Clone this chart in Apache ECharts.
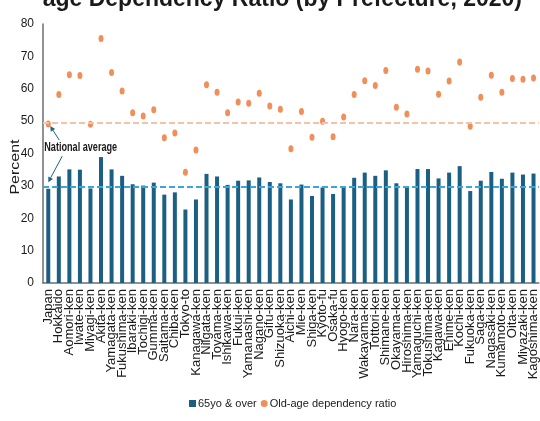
<!DOCTYPE html>
<html>
<head>
<meta charset="utf-8">
<script src="https://cdn.jsdelivr.net/npm/echarts@6/dist/echarts.min.js"></script>
<style>
  html, body { margin: 0; padding: 0; background: #fff; }
  #chart { width: 540px; height: 421px; }
</style>
</head>
<body>
<div id="chart"></div>
<script>
// Prefectures (national figure first)
const categories = [
  'Japan', 'Hokkaido', 'Aomori-ken', 'Iwate-ken', 'Miyagi-ken', 'Akita-ken',
  'Yamagata-ken', 'Fukushima-ken', 'Ibaraki-ken', 'Tochigi-ken', 'Gumma-ken',
  'Saitama-ken', 'Chiba-ken', 'Tokyo-to', 'Kanagawa-ken', 'Niigata-ken',
  'Toyama-ken', 'Ishikawa-ken', 'Fukui-ken', 'Yamanashi-ken', 'Nagano-ken',
  'Gifu-ken', 'Shizuoka-ken', 'Aichi-ken', 'Mie-ken', 'Shiga-ken', 'Kyoto-fu',
  'Osaka-fu', 'Hyogo-ken', 'Nara-ken', 'Wakayama-ken', 'Tottori-ken',
  'Shimane-ken', 'Okayama-ken', 'Hiroshima-ken', 'Yamaguchi-ken',
  'Tokushima-ken', 'Kagawa-ken', 'Ehime-ken', 'Kochi-ken', 'Fukuoka-ken',
  'Saga-ken', 'Nagasaki-ken', 'Kumamoto-ken', 'Oita-ken', 'Miyazaki-ken',
  'Kagoshima-ken'
];

// Share of population aged 65 and over (%)
const over65 = [
  29.1, 32.9, 35.1, 35.0, 29.2, 38.9, 35.1, 33.1, 30.5, 30.1, 31.0, 27.3,
  28.0, 22.7, 25.8, 33.7, 32.9, 30.3, 31.6, 31.7, 32.6, 31.2, 30.8, 25.8,
  30.4, 26.9, 29.5, 27.5, 29.7, 32.5, 34.1, 33.1, 34.8, 30.8, 29.9, 35.2,
  35.2, 32.3, 34.1, 36.1, 28.4, 31.6, 34.3, 32.2, 34.1, 33.5, 33.8
];

// Old-age dependency ratio (%)
const oldAgeRatio = [
  49.1, 58.2, 64.3, 64.1, 49.0, 75.5, 65.0, 59.3, 52.6, 51.6, 53.5, 44.9,
  46.3, 34.2, 41.1, 61.2, 58.9, 52.6, 55.9, 55.5, 58.6, 54.7, 53.7, 41.5,
  53.0, 45.0, 50.0, 45.2, 51.3, 58.2, 62.5, 61.0, 65.6, 54.3, 52.2, 66.0,
  65.5, 58.3, 62.4, 68.3, 48.4, 57.4, 64.2, 58.9, 63.2, 62.9, 63.3
];

// National averages drawn as reference lines
const nationalOver65 = 29.6;
const nationalRatio = 49.4;

const yMin = 0, yMax = 80, yStep = 10;

const BAR = '#1b5f83';
const DOT = '#ec7331';
const SANS = '"Liberation Sans", Arial, sans-serif';

const chart = echarts.init(document.getElementById('chart'), null, { renderer: 'canvas' });

const option = {
  animation: false,
  backgroundColor: '#fff',
  grid: { left: 43, right: 0, top: 24, bottom: 138, containLabel: false },
  xAxis: {
    type: 'category',
    data: categories,
    axisLine: { show: true, lineStyle: { color: '#6e6e6e', width: 1.5 } },
    axisTick: { show: false },
    axisLabel: {
      interval: 0,
      rotate: 90,
      margin: 6,
      fontFamily: SANS,
      fontSize: 13,
      color: '#1a1a1a'
    }
  },
  yAxis: {
    type: 'value',
    min: yMin,
    max: yMax,
    interval: yStep,
    splitLine: { show: false },
    axisLine: { show: true, lineStyle: { color: '#6e6e6e', width: 1.5 } },
    axisTick: { show: false },
    axisLabel: { margin: 9, fontFamily: SANS, fontSize: 12, color: '#1a1a1a' }
  },
  legend: {
    bottom: 7,
    left: 184,
    itemWidth: 7,
    itemHeight: 7,
    itemGap: 4,
    textStyle: { fontFamily: SANS, fontSize: 11, color: '#1a1a1a', padding: [0, 0, 0, -3] },
    data: [
      { name: '65yo & over', icon: 'rect' },
      { name: 'Old-age dependency ratio', icon: 'circle', itemStyle: { color: DOT } }
    ]
  },
  series: [
    {
      name: '65yo & over',
      type: 'bar',
      data: over65,
      barWidth: 4,
      itemStyle: { color: BAR },
      markLine: {
        silent: true,
        symbol: ['none', 'none'],
        label: { show: false },
        lineStyle: { color: '#3ba5dc', type: [6, 3], width: 2 },
        data: [{ yAxis: nationalOver65 }]
      }
    },
    {
      name: 'Old-age dependency ratio',
      type: 'scatter',
      data: oldAgeRatio,
      symbol: 'circle',
      symbolSize: [5, 7],
      itemStyle: { color: DOT },
      z: 3,
      markLine: {
        silent: true,
        symbol: ['none', 'none'],
        label: { show: false },
        lineStyle: { color: '#f7c3a6', type: [6, 3], width: 2 },
        data: [{ yAxis: nationalRatio }]
      }
    }
  ]
};

chart.setOption(option);

// Annotation arrows pointing at the two national reference lines
const ARROW = '#1f6485';
function arrow(from, to) {
  const ang = Math.atan2(to[1] - from[1], to[0] - from[0]);
  const len = 5, wid = 2.6;
  const bx = to[0] - Math.cos(ang) * len, by = to[1] - Math.sin(ang) * len;
  const nx = -Math.sin(ang) * wid, ny = Math.cos(ang) * wid;
  return [
    { type: 'line', shape: { x1: from[0], y1: from[1], x2: bx, y2: by },
      style: { stroke: ARROW, lineWidth: 1 }, z: 10 },
    { type: 'polygon', shape: { points: [to, [bx + nx, by + ny], [bx - nx, by - ny]] },
      style: { fill: ARROW }, z: 10 }
  ];
}

const pRatio = chart.convertToPixel({ seriesIndex: 1 }, [0, nationalRatio]);
const pOver = chart.convertToPixel({ seriesIndex: 0 }, [0, nationalOver65]);
const labelX = pRatio[0] - 4;
const labelY = (pRatio[1] + pOver[1]) / 2 - 8;
const axisBottom = chart.convertToPixel({ seriesIndex: 0 }, [0, yMin])[1];

chart.setOption({
  graphic: [
    {
      // the category labels end in a fixed band above the legend
      type: 'rect', z: 15, silent: true,
      shape: { x: 30, y: axisBottom + 96, width: 520, height: 12 },
      style: { fill: '#fff' }
    },
    {
      type: 'text', z: 20,
      style: {
        x: 522, y: 11, text: 'age Dependency Ratio (by Prefecture, 2020)',
        font: 'bold 23px ' + SANS, fill: '#1a1a1a',
        textAlign: 'right', textVerticalAlign: 'bottom'
      }
    },
    {
      type: 'text', z: 20,
      x: 15, y: 167, rotation: Math.PI / 2, scaleX: 1.23,
      style: {
        x: 0, y: 0, text: 'Percent', font: '13px ' + SANS, fill: '#1a1a1a',
        textAlign: 'center', textVerticalAlign: 'middle'
      }
    },
    {
      type: 'text', z: 20,
      x: labelX, y: labelY, scaleX: 0.7,
      style: {
        x: 0, y: 0, text: 'National average',
        font: 'bold 13px ' + SANS, fill: '#1a1a1a',
        textAlign: 'left', textVerticalAlign: 'middle'
      }
    },
    ...arrow([pRatio[0] + 11, labelY - 7], [pRatio[0] + 2, pRatio[1] + 3]),
    ...arrow([pRatio[0] + 14, labelY + 9], [pRatio[0], pOver[1] - 5])
  ]
});
</script>
</body>
</html>
